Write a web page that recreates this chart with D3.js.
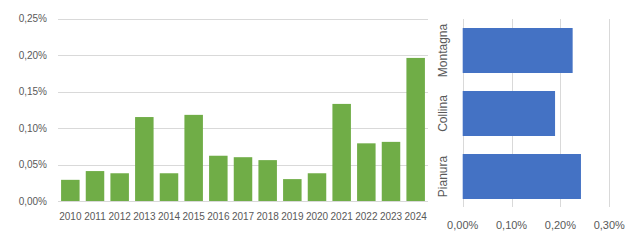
<!DOCTYPE html>
<html>
<head>
<meta charset="utf-8">
<script src="https://cdn.jsdelivr.net/npm/d3@7"></script>
<style>
body { margin: 0; background: #fff; }
text { font-family: "Liberation Sans", Arial, sans-serif; fill: #595959; }
</style>
</head>
<body>
<svg id="chart" width="630" height="240"></svg>
<script>
var years = ["2010","2011","2012","2013","2014","2015","2016","2017","2018","2019","2020","2021","2022","2023","2024"];
var yearValues = [0.029, 0.041, 0.038, 0.115, 0.038, 0.118, 0.062, 0.060, 0.056, 0.030, 0.038, 0.133, 0.079, 0.081, 0.196];
var yTicks = [0, 0.05, 0.10, 0.15, 0.20, 0.25];

var zones = ["Montagna", "Collina", "Pianura"];
var zoneValues = [0.225, 0.189, 0.242];
var xTicks = [0, 0.10, 0.20, 0.30];

var svg = d3.select("#chart");
var grid = "#d9d9d9";
var fmt = function(v) { return v.toFixed(2).replace(".", ",") + "%"; };

// left chart: years
var x1 = d3.scaleBand().domain(years).range([58, 428]).paddingInner(0.25).paddingOuter(0.125);
var y1 = d3.scaleLinear().domain([0, 0.25]).range([201, 18.5]);

var left = svg.append("g");

left.selectAll(".grid").data(yTicks).enter()
  .append("line")
  .attr("x1", 58)
  .attr("x2", 428)
  .attr("y1", function(d) { return Math.round(y1(d)) + 0.5; })
  .attr("y2", function(d) { return Math.round(y1(d)) + 0.5; })
  .attr("stroke", grid)
  .attr("stroke-width", 1);

left.selectAll(".ylab").data(yTicks).enter()
  .append("text")
  .attr("x", 47)
  .attr("y", function(d) { return y1(d) + 3.5; })
  .attr("text-anchor", "end")
  .attr("font-size", "10px")
  .text(fmt);

left.selectAll(".bar").data(yearValues).enter()
  .append("rect")
  .attr("x", function(d, i) { return x1(years[i]); })
  .attr("y", function(d) { return y1(d); })
  .attr("width", x1.bandwidth())
  .attr("height", function(d) { return y1(0) - y1(d); })
  .attr("fill", "#70ad47");

left.selectAll(".xlab").data(years).enter()
  .append("text")
  .attr("x", function(d) { return x1(d) + x1.bandwidth() / 2; })
  .attr("y", 220)
  .attr("text-anchor", "middle")
  .attr("font-size", "10px")
  .text(function(d) { return d; });

// right chart: zones
var x2 = d3.scaleLinear().domain([0, 0.30]).range([462.7, 609.3]);
var y2 = d3.scaleBand().domain(zones).range([19, 208]).paddingInner(0.286).paddingOuter(0.143);

var right = svg.append("g");

right.selectAll(".vgrid").data(xTicks).enter()
  .append("line")
  .attr("x1", function(d) { return Math.round(x2(d)) + 0.5; })
  .attr("x2", function(d) { return Math.round(x2(d)) + 0.5; })
  .attr("y1", 19)
  .attr("y2", 207)
  .attr("stroke", grid)
  .attr("stroke-width", 1);

right.selectAll(".hbar").data(zoneValues).enter()
  .append("rect")
  .attr("x", x2(0))
  .attr("y", function(d, i) { return y2(zones[i]); })
  .attr("width", function(d) { return x2(d) - x2(0); })
  .attr("height", y2.bandwidth())
  .attr("fill", "#4472c4");

right.selectAll(".zlab").data(zones).enter()
  .append("text")
  .attr("transform", function(d) { return "translate(447," + (y2(d) + y2.bandwidth() / 2) + ") rotate(-90)"; })
  .attr("text-anchor", "middle")
  .attr("font-size", "12px")
  .text(function(d) { return d; });

right.selectAll(".xlab2").data(xTicks).enter()
  .append("text")
  .attr("x", function(d) { return x2(d); })
  .attr("y", 229)
  .attr("text-anchor", "middle")
  .attr("font-size", "11px")
  .text(fmt);
</script>
</body>
</html>
